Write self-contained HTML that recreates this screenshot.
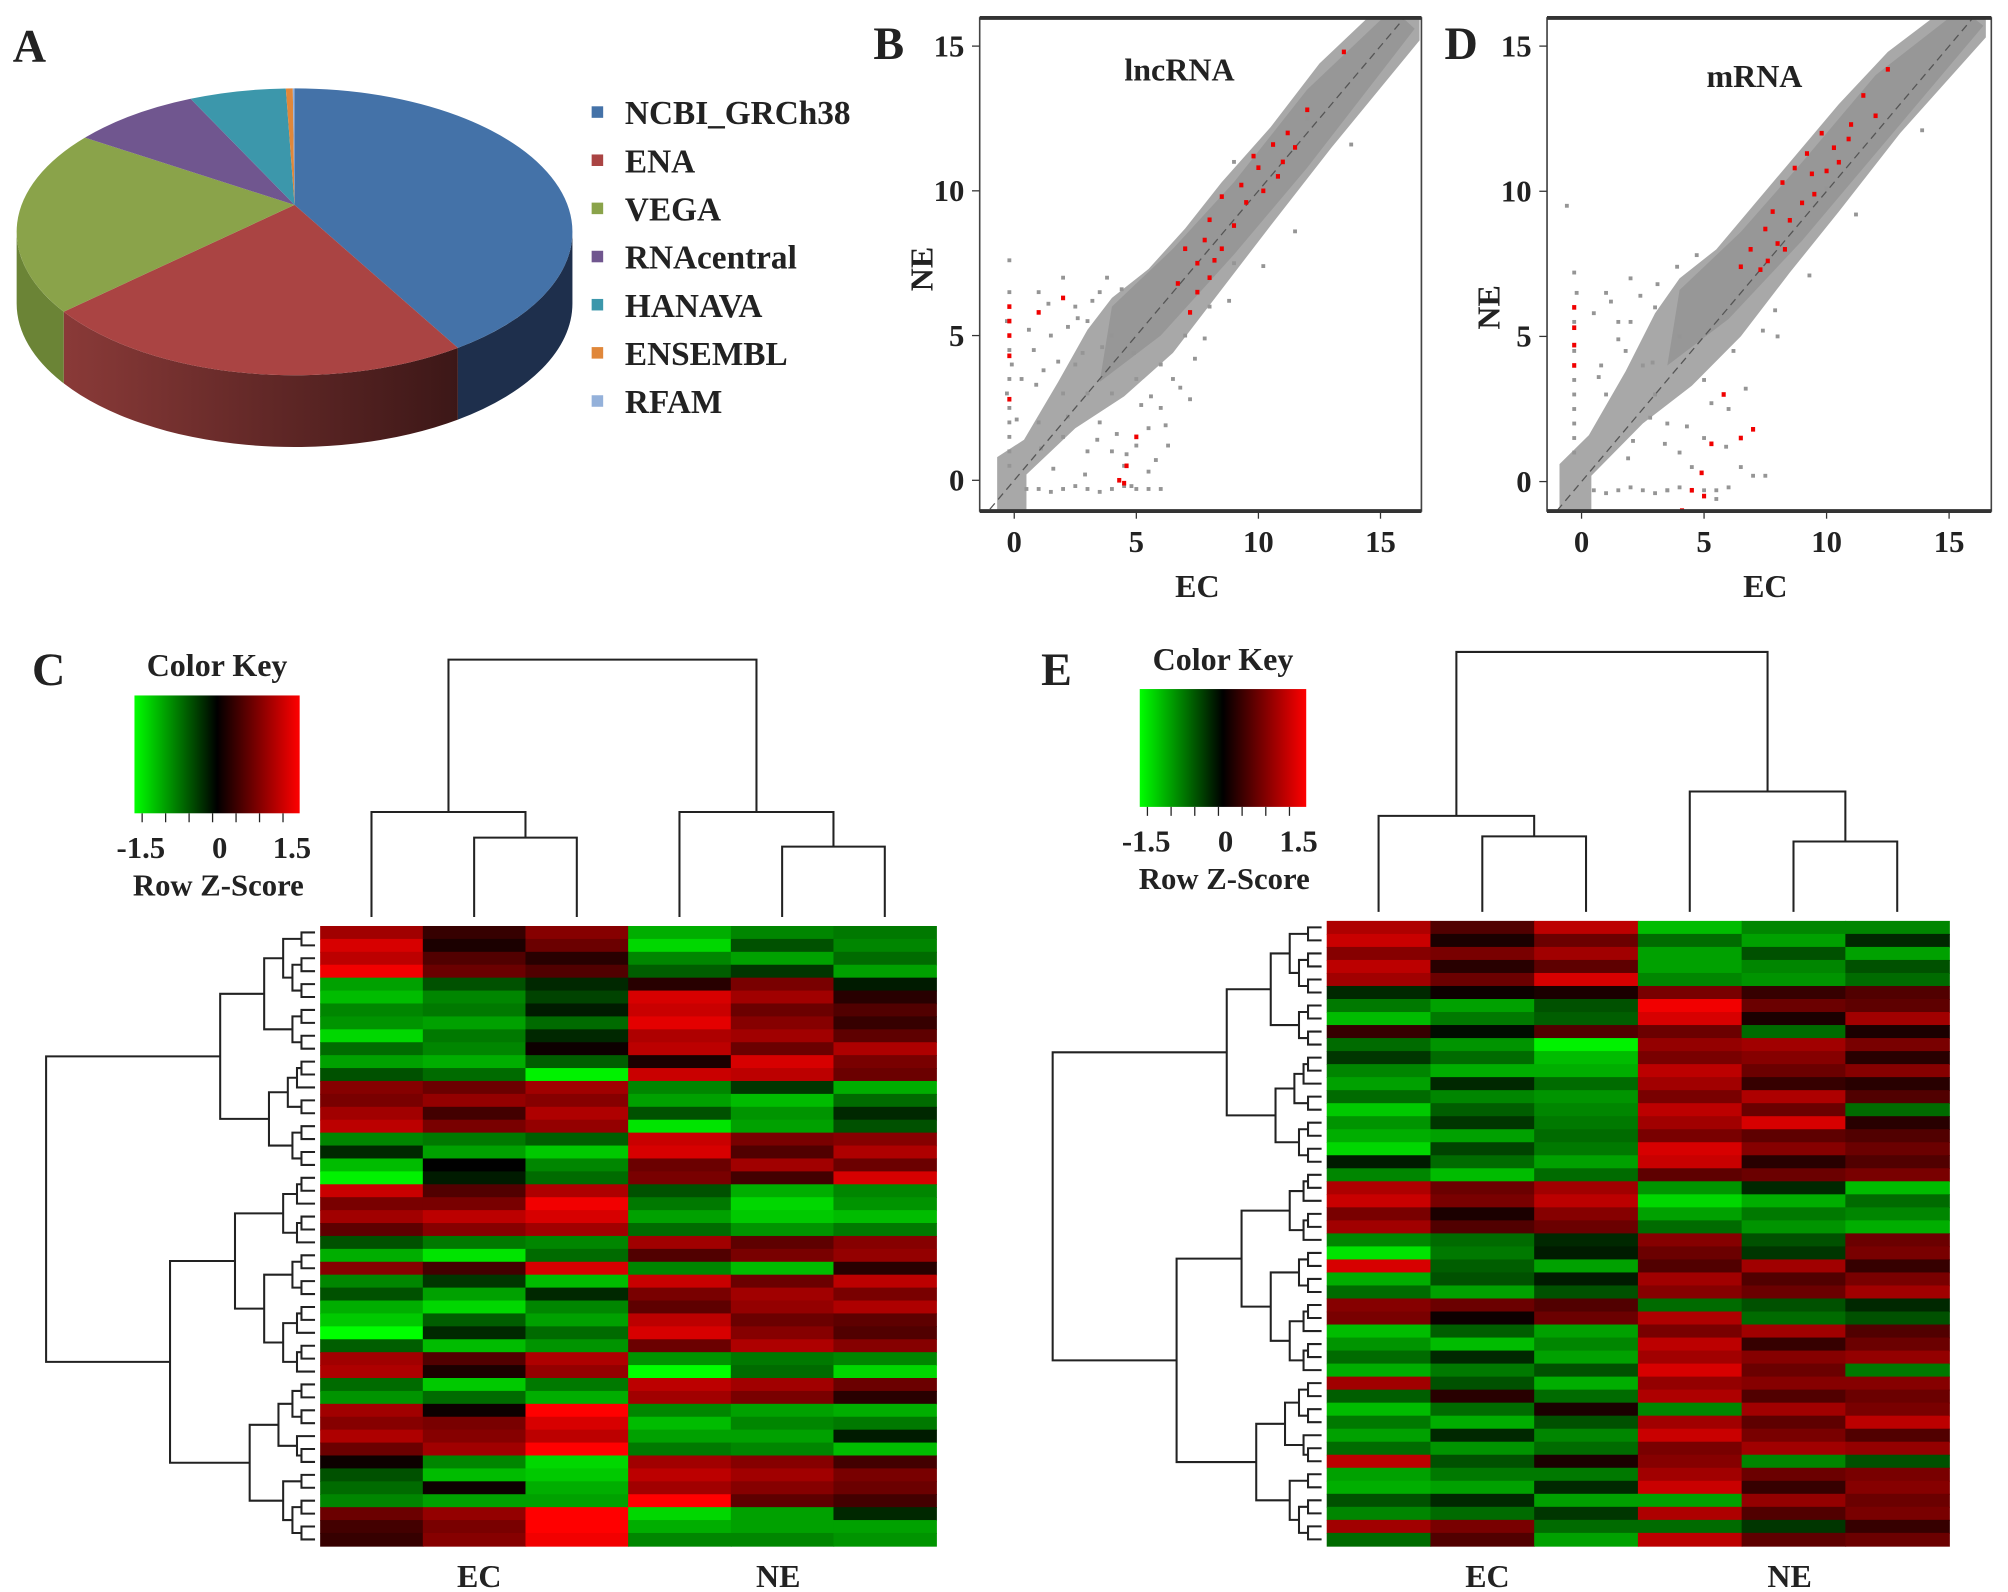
<!DOCTYPE html>
<html><head><meta charset="utf-8"><style>
html,body{margin:0;padding:0;background:#fff}
svg{display:block}
text{font-family:"Liberation Serif",serif;font-weight:bold;fill:#222}
</style></head><body>
<svg id="fig" width="2008" height="1592" viewBox="0 0 1568 1243" preserveAspectRatio="none" xmlns="http://www.w3.org/2000/svg">
<defs>
<linearGradient id="enaSide" x1="0" x2="1" y1="0" y2="0"><stop offset="0" stop-color="#8a3a38"/><stop offset="1" stop-color="#3c1717"/></linearGradient>
<linearGradient id="keyGrad" x1="0" x2="1"><stop offset="0" stop-color="#00ff00"/><stop offset="0.5" stop-color="#000"/><stop offset="1" stop-color="#ff0000"/></linearGradient>
</defs>
<g id="pie"></g>
<g id="legend"></g>
<g id="scB"></g>
<g id="scD"></g>
<g id="hmC"></g>
<g id="hmE"></g>
<text x="10" y="48" font-size="36">A</text>
<text x="682" y="46" font-size="36">B</text>
<text x="1128" y="46" font-size="36">D</text>
<text x="25" y="535" font-size="36">C</text>
<text x="813" y="535" font-size="36">E</text>
</svg>
<script>
const NS="http://www.w3.org/2000/svg";
function mk(p,tag,attrs){const e=document.createElementNS(NS,tag);for(const k in attrs)e.setAttribute(k,attrs[k]);p.appendChild(e);return e;}

// ---------- Pie data ----------
const pieLabels=["NCBI_GRCh38","ENA","VEGA","RNAcentral","HANAVA","ENSEMBL","RFAM"];
const pieValues=[40,25.6,20.8,7.5,5.6,0.4,0.1];
const pieColors=["#4472a8","#aa4443","#8aa34a","#70568f","#3c97ab","#e0873a","#94b1da"];
const pieSide=["#1e2f4c","url(#enaSide)","#6b8436","#4a3a60","#2a6a78","#a05a20","#6f86a8"];

(function(){
  const g=document.getElementById('pie');
  const cx=230,cy=181,rx=217,ry=112,depth=56,ax=230,ay=160;
  const total=pieValues.reduce((a,b)=>a+b,0);
  const pt=(a,dy)=>[cx+rx*Math.cos(a),cy+ry*Math.sin(a)+(dy||0)];
  let a0=-Math.PI/2;const segs=[];
  pieValues.forEach((v,i)=>{const a1=a0+v/total*2*Math.PI;segs.push([a0,a1]);a0=a1;});
  segs.forEach(([s,e],i)=>{
    [[s,e],[s-2*Math.PI,e-2*Math.PI],[s+2*Math.PI,e+2*Math.PI]].forEach(([a,b])=>{
      const lo=Math.max(a,0),hi=Math.min(b,Math.PI);
      if(hi<=lo)return;
      const p1=pt(lo),p2=pt(hi),p3=pt(hi,depth),p4=pt(lo,depth);
      const el=mk(g,'path',{d:`M${p1} A${rx},${ry} 0 0 1 ${p2} L${p3} A${rx},${ry} 0 0 0 ${p4} Z`,fill:pieSide[i]});
      
      
    });
  });
  segs.forEach(([s,e],i)=>{
    const p1=pt(s),p2=pt(e);const large=(e-s)>Math.PI?1:0;
    const el=mk(g,'path',{d:`M${ax},${ay} L${p1} A${rx},${ry} 0 ${large} 1 ${p2} Z`,fill:pieColors[i]});
    
    
  });
  const lg=document.getElementById('legend');
  pieLabels.forEach((l,i)=>{
    const y=88+i*37.6;
    const r=mk(lg,'rect',{x:462,y:y-5,width:9,height:9,fill:pieColors[i]});
    
    
    const t=mk(lg,'text',{x:488,y:y+9,'font-size':26});t.textContent=l;
    
    
  });
})();

// ---------- Scatter data ----------
const ticksXY=[0,5,10,15];
const cloudB=[[-0.7,-1.3],[0.5,-1.3],[0.5,0.2],[2.5,1.8],[4.5,2.9],[6.5,4.4],[8.5,6.6],[10.5,8.8],[13,11.5],[16.6,15.2],[16.6,16.4],[15,16.4],[12.5,14.4],[10.5,12.2],[8.5,10.3],[7,8.7],[5.5,7.3],[4,6.3],[3,5.2],[1.8,3.4],[0.4,1.4],[-0.7,0.8]];
const coreB=[[3.5,3.4],[6,5],[9,7.8],[12,10.8],[16.4,15.6],[15.5,16.3],[12,13.5],[9,10.3],[6.5,8],[4,6]];
const grayB_ec=[-0.2,-0.2,-0.2,-0.2,-0.2,-0.3,-0.2,-0.1,-0.2,-0.3,-0.2,-0.2,0.5,1,1.5,2,2.5,3,3.5,4,4.5,5,5.5,6,1,2,1.5,2.5,3,3.5,4,4.5,5,5.5,4,3,2,1,3.5,2.5,6,6.5,5,4,3,2,7,6,5.5,4.8,8,9,12,9,0.8,1.2,2.2,4.2,5.2,6.2,0.6,1.4,2.6,3.2,3.8,4.4,5.6,6.8,7.4,2.8,1.8,0.9,3.4,4.6,5.8,7.8,8.8,10.2,11.5,13.8,2.2,3.6,1.1,4.9,6.3,7.2,0.3,0.1,1.6,2.9];
const grayB_ne=[0.5,1,1.5,2,2.5,3,3.5,4,4.5,5.5,6.5,7.6,-0.3,-0.3,-0.4,-0.3,-0.2,-0.3,-0.4,-0.3,-0.2,-0.3,-0.3,-0.3,6.5,7,5,4,3,2,1,0.5,1.2,1.8,5,5.5,3,2,6.5,6,2.5,3.5,3.5,3,1,1.5,5,4,0.3,-0.2,6,7.5,12.5,11,4.5,3.8,2.2,1.6,2.6,1.9,5.2,6.1,5.6,6.2,7,6.6,2.9,3.2,4.2,4.4,4.1,3.3,1.4,0.9,0.7,4.9,6.2,7.4,8.6,11.6,5.3,4.6,1.1,4.4,1.2,2.8,3.5,2.1,0.4,0.2];
const redB_ec=[-0.2,-0.2,-0.2,-0.2,-0.2,1,2,4.5,4.3,3.5,5,4.6,7.5,7.2,7,7.5,8,8,8.5,8.5,9,9.3,9.5,10,10.2,10.6,11,11.2,11.5,12,13.5,7.8,9.8,10.8,8.2,6.7];
const redB_ne=[5,5.5,4.3,6,2.8,5.8,6.3,-0.1,0,-1.2,1.5,0.5,6.5,5.8,8,7.5,7,9,8,9.8,8.8,10.2,9.6,10.8,10,11.6,11,12,11.5,12.8,14.8,8.3,11.2,10.5,7.6,6.8];
const cloudD=[[-0.9,-1.3],[0.4,-1.3],[0.4,0.2],[2.5,2],[4.5,3.3],[6.5,5],[8.5,7.2],[10.5,9.3],[13,12],[16.5,15.3],[16.5,16.4],[15,16.4],[12.5,14.8],[10.5,13],[8.5,11],[7,9.5],[5.5,8],[4,7],[3,5.8],[1.8,3.8],[0.3,1.6],[-0.9,0.6]];
const coreD=[[3.5,4],[6,5.6],[9,8.3],[12,11.3],[16.4,15.7],[15.5,16.3],[12,14],[9,11],[6.5,8.6],[4,6.6]];
const grayD_ec=[-0.3,-0.3,-0.3,-0.3,-0.3,-0.3,-0.3,-0.3,-0.2,-0.3,0.5,1,1.5,2,2.5,3,3.5,4,4.5,5,5.5,6,1,2,1.5,2.5,3,3.5,4,4.5,5,6.5,7,7.5,6,5,4,3,2,1,8,6.2,7.4,10,-0.6,3.5,5.5,0.8,1.8,2.8,0.5,1.2,2.4,3.1,3.9,4.7,5.3,6.7,1.5,0.7,2.9,4.3,5.9,7.9,9.3,11.2,13.9,2.1,3.4,1.9];
const grayD_ne=[1,1.5,2,2.5,3,3.5,4.5,5.5,6.5,7.2,-0.3,-0.4,-0.3,-0.2,-0.3,-0.4,-0.3,-0.2,-0.3,-0.3,-0.3,-0.2,6.5,7,5.5,4,3,2,1,0.5,1.5,0.5,0.2,0.2,2.5,3.5,5,6,5.5,3,5,4.5,5.2,10.1,9.5,-0.3,-0.6,4,4.5,2.2,5.8,6.2,6.4,6.8,7.4,7.8,2.7,3.2,4.9,3.6,4.1,1.9,1.2,5.9,7.1,9.2,12.1,1.4,1.3,0.8];
const redD_ec=[-0.3,-0.3,-0.3,-0.3,4.5,5,6.5,7,5.3,4.1,4.9,5.8,6.5,6.9,7.3,7.5,7.8,8,8.2,8.5,8.7,9,9.2,9.5,9.8,10,10.3,10.5,11,11.5,12,12.5,8.3,9.4,7.6,10.9];
const redD_ne=[5.3,4.7,6,4,-0.3,-0.5,1.5,1.8,1.3,-1,0.3,3,7.4,8,7.3,8.7,9.3,8.2,10.3,9,10.8,9.6,11.3,9.9,12,10.7,11.5,11,12.3,13.3,12.6,14.2,8,10.6,7.6,11.8];

function scatter(gid,f,cloud,core,gx,gy,rxs,rys,title,titleX,titleY,ylabX,ylabY){
  const g=document.getElementById(gid);
  const X=v=>f.x0+v*(f.x15-f.x0)/15, Y=v=>f.y0+v*(f.y15-f.y0)/15;
  const fr=mk(g,'rect',{x:f.L,y:f.T,width:f.R-f.L,height:f.B-f.T,fill:'#fff',stroke:'#444','stroke-width':1.2});
  
  
  const cl=mk(g,'polygon',{points:cloud.map(p=>X(p[0])+','+Y(p[1])).join(' '),fill:'#a8a8a8'});
  
  
  const co=mk(g,'polygon',{points:core.map(p=>X(p[0])+','+Y(p[1])).join(' '),fill:'#979797'});
  
  
  gx.forEach((v,i)=>{const c=mk(g,'rect',{x:X(v)-1.5,y:Y(gy[i])-1.5,width:3,height:3,fill:'#959595'});
    
    });
  const dl=mk(g,'line',{x1:X(-1),y1:Y(-1),x2:X(16.5),y2:Y(16.5),stroke:'#555','stroke-width':1,'stroke-dasharray':'6,4'});
  
  
  rxs.forEach((v,i)=>{const c=mk(g,'rect',{x:X(v)-1.6,y:Y(rys[i])-1.8,width:3.2,height:3.6,fill:'#f00000'});
    
    });
  mk(g,'rect',{x:f.L-30,y:f.T-40,width:f.R-f.L+60,height:40,fill:'#fff'});
  mk(g,'rect',{x:f.L-30,y:f.B,width:f.R-f.L+60,height:30,fill:'#fff'});
  mk(g,'rect',{x:f.R,y:f.T-40,width:30,height:f.B-f.T+70,fill:'#fff'});
  mk(g,'rect',{x:f.L-12,y:f.T,width:12,height:f.B-f.T,fill:'#fff'});
  mk(g,'rect',{x:f.L,y:f.T,width:f.R-f.L,height:f.B-f.T,fill:'none',stroke:'#444','stroke-width':1.2});
  mk(g,'line',{x1:f.L,x2:f.R,y1:f.T,y2:f.T,stroke:'#333','stroke-width':3});
  mk(g,'line',{x1:f.L,x2:f.R,y1:f.B,y2:f.B,stroke:'#333','stroke-width':3});
  ticksXY.forEach(v=>{
    mk(g,'line',{x1:X(v),x2:X(v),y1:f.B,y2:f.B+6,stroke:'#333'});
    const t=mk(g,'text',{x:X(v),y:f.B+32,'font-size':24,'text-anchor':'middle','font-weight':'normal'});t.textContent=v;
    
    
    mk(g,'line',{x1:f.L-6,x2:f.L,y1:Y(v),y2:Y(v),stroke:'#333'});
    const u=mk(g,'text',{x:f.L-12,y:Y(v)+8,'font-size':24,'text-anchor':'end','font-weight':'normal'});u.textContent=v;
    
    
  });
  const tt=mk(g,'text',{x:titleX,y:titleY,'font-size':25,'text-anchor':'middle'});tt.textContent=title;
  
  
  const xl=mk(g,'text',{x:(X(0)+X(15))/2,y:f.B+67,'font-size':25,'text-anchor':'middle'});xl.textContent='EC';
  
  
  const yl=mk(g,'text',{x:ylabX,y:ylabY,'font-size':25,'text-anchor':'middle',transform:`rotate(-90 ${ylabX} ${ylabY})`});yl.textContent='NE';
  
  
}
scatter('scB',{L:765,R:1110,T:14,B:399,x0:792,x15:1078,y0:375,y15:36},cloudB,coreB,grayB_ec,grayB_ne,redB_ec,redB_ne,'lncRNA',921,63,728,210);
scatter('scD',{L:1208,R:1555,T:14,B:399,x0:1235,x15:1522,y0:376,y15:36},cloudD,coreD,grayD_ec,grayD_ne,redD_ec,redD_ne,'mRNA',1370,68,1171,240);

// ---------- Heatmap data (row z-scores; columns EC1 EC2 EC3 NE1 NE2 NE3) ----------
const heatCols=["EC","EC","EC","NE","NE","NE"];
const heatC=[
[1.2,0.4,1,-1.3,-1,-0.9],[1.6,0.2,0.8,-1.6,-0.6,-1],[1.4,0.6,0.3,-1,-1.2,-0.8],[1.8,0.8,0.6,-0.7,-0.4,-1.2],
[-1.2,-0.6,-0.3,0.3,0.9,-0.2],[-1.4,-1,-0.5,1.6,1.2,0.3],[-1,-0.9,-0.2,1.5,0.8,0.6],[-1.1,-1.2,-0.8,1.7,1,0.4],
[-1.6,-0.9,-0.3,1.3,1.2,0.7],[-0.8,-1,0.1,1.4,0.8,1.3],[-1.2,-1.3,-0.7,0.2,1.6,0.9],[-0.6,-0.8,-1.8,1.5,1.4,0.8],
[1,0.8,1.2,-1,-0.4,-1.3],[0.9,1.1,1,-1.2,-1.4,-0.8],[1.2,0.5,1.3,-0.6,-1.1,-0.3],[1.4,0.9,1.1,-1.7,-1.2,-0.6],
[-1,-0.9,-0.7,1.5,0.9,1],[-0.3,-1.2,-1.5,1.6,0.6,1.3],[-1.4,0,-1,0.8,1.2,0.8],[-1.8,-0.2,-0.8,0.9,0.5,1.6],
[1.5,0.6,1.3,-0.6,-1.3,-1],[0.9,0.9,1.8,-0.9,-1.6,-1.1],[1.2,1.4,1.6,-1.2,-1.5,-1.4],[0.7,1,1.2,-0.8,-1.1,-0.9],
[-0.6,-0.9,-1,1.2,0.7,1],[-1.3,-1.7,-0.8,0.6,0.9,1.1],[1,0.5,1.6,-1,-1.4,0.3],[-1,-0.4,-1.4,1.5,0.8,1.4],
[-0.6,-1.2,-0.3,0.9,1.2,0.9],[-1.3,-1.6,-1,0.7,1.1,1.3],[-1.5,-0.7,-1.2,1.4,0.8,0.7],[-1.9,-0.3,-0.8,1.6,1,0.6],
[-0.7,-1.4,-1.1,0.8,1.3,1],[1.2,0.6,1.3,-1.1,-0.9,-1],[1.3,0.2,1.1,-2,-0.8,-1.6],[-0.8,-1.5,-0.9,1.4,1.2,0.8],
[-1.1,-0.8,-1.3,1.2,0.9,0.3],[1.2,0.1,1.9,-1,-1.2,-1.3],[1,0.9,1.6,-1.4,-1,-0.9],[1.3,1,1.4,-1.2,-1.2,-0.2],
[0.8,1.2,1.9,-0.9,-1,-1.4],[0.1,-1,-1.6,1.2,1,0.5],[-0.6,-1.4,-1.5,1.4,1.2,0.9],[-0.8,0.1,-1.3,1.2,1,0.8],
[-1,-1.2,-1.2,1.9,0.7,0.5],[0.8,1.1,1.9,-1.6,-1.2,-0.3],[0.5,0.9,2,-1.3,-1.2,-1.2],[0.4,1,1.8,-1,-1,-1.1]];
const heatE=[
[1.3,0.6,1.4,-1.4,-1,-1],[1.5,0.2,0.8,-0.8,-1.2,-0.3],[1,0.9,1.2,-1.2,-0.6,-1.2],[1.4,0.3,0.7,-1.2,-1,-0.6],
[1.2,0.8,1.6,-1,-1.1,-0.8],[-0.3,0.1,0.2,0.9,0.4,0.6],[-0.9,-1.2,-0.6,1.8,0.8,0.7],[-1.4,-0.9,-0.7,1.6,0.2,1.2],
[0.4,-0.1,0.6,0.8,-0.8,0.2],[-0.8,-1.1,-1.8,1.1,1.2,0.9],[-0.4,-0.8,-1.4,0.9,1,0.3],[-1,-1.3,-1.3,1.4,0.8,1],
[-1.2,-0.3,-0.8,1.2,0.4,0.3],[-0.8,-1,-1.1,0.9,1.3,0.6],[-1.5,-0.7,-1,1.4,0.8,-0.8],[-1.1,-0.4,-0.9,1.2,1.6,0.3],
[-1.3,-1.2,-0.8,0.9,0.7,0.6],[-1.6,-0.5,-0.9,1.6,1,0.8],[-0.2,-0.8,-1.2,1.5,0.3,0.6],[-1,-1.4,-0.8,0.7,0.8,0.9],
[1.3,0.8,1.2,-1.1,-0.3,-1.4],[1.5,0.9,1.4,-1.6,-1.3,-0.8],[0.9,0.2,1,-1.2,-0.9,-1],[1.2,0.6,0.8,-0.8,-1.1,-1.3],
[-1,-0.8,-0.3,1,-0.6,0.8],[-1.7,-0.9,-0.2,0.8,-0.4,0.9],[1.6,-0.7,-1.2,0.6,1.2,0.4],[-1.3,-0.6,-0.2,1.2,0.6,0.9],
[-0.8,-1.2,-0.6,1,0.8,1.2],[1,0.8,0.6,-0.8,-0.6,-0.3],[0.9,0.1,0.8,1.3,-0.8,-0.6],[-1.4,-0.7,-1.2,0.9,1.2,0.6],
[-1.1,-1.4,-1,1.4,0.4,0.8],[-0.8,-0.3,-1.2,1.2,1,1.1],[-1.3,-0.9,-0.6,1.6,0.8,-0.9],[1.2,-0.6,-1.3,1.1,1,1],
[-0.7,0.3,-0.8,1.3,0.6,0.8],[-1.4,-0.8,0.2,-1,1.2,0.9],[-0.9,-1.3,-0.6,1.2,0.7,1.4],[-1.2,-0.3,-1,1.5,0.9,0.6],
[-0.8,-1.1,-0.8,0.9,1.2,1.1],[1.4,-0.6,0.2,1,-1,-0.6],[-1.2,-0.9,-0.9,1.2,0.8,0.9],[-1.3,-1.2,-0.3,1.5,0.4,1],
[-0.6,-0.3,-1.2,-1.2,1.1,0.8],[-1,-0.8,-0.4,1.3,0.6,0.9],[1.2,0.9,-0.8,-0.8,-0.4,0.4],[-0.8,0.6,-1.2,1.4,0.7,0.8]];

function zcol(z){const t=Math.max(-1,Math.min(1,z/1.9));
  if(t>=0)return `rgb(${Math.round(255*t)},0,0)`;return `rgb(0,${Math.round(-255*t)},0)`;}

function heatmap(gid,data,H,keyBox,top){
  const g=document.getElementById(gid);
  const n=data.length,cw=(H.R-H.L)/6,rh=(H.B-H.T)/n;
  data.forEach((row,r)=>row.forEach((z,c)=>{
    const e=mk(g,'rect',{x:H.L+c*cw,y:H.T+r*rh,width:cw+0.6,height:rh+0.6,fill:zcol(z)});
    
    
  }));
  const cx=i=>H.L+cw*(i+0.5);
  const st={stroke:'#222','stroke-width':1.6,fill:'none'};
  const p=(d,name)=>{const e=mk(g,'path',Object.assign({d:d},st));};
  const leafY=H.T-7;
  const lm=(cx(1)+cx(2))/2, lmn=(cx(0)+lm)/2, rm=(cx(4)+cx(5))/2, rmn=(cx(3)+rm)/2;
  p(`M${cx(1)},${leafY}V${top.li}H${cx(2)}V${leafY}`,'column-dendrogram');
  p(`M${cx(0)},${leafY}V${top.l}H${lm}V${top.li}`,'column-dendrogram');
  p(`M${cx(4)},${leafY}V${top.ri}H${cx(5)}V${leafY}`,'column-dendrogram');
  p(`M${cx(3)},${leafY}V${top.r}H${rm}V${top.ri}`,'column-dendrogram');
  p(`M${lmn},${top.l}V${top.root}H${rmn}V${top.r}`,'column-dendrogram');
  const leafX=H.L-4;
  function node(lo,hi,depth){
    if(hi-lo===1)return {y:H.T+rh*(lo+0.5),x:leafX};
    const k=hi-lo;const m=lo+Math.max(1,Math.round(k*((lo+hi)%3===0?0.4:0.55)));
    const a=node(lo,m,depth+1),b=node(m,hi,depth+1);
    const frac=depth===0?1:Math.pow(k/n,1.05)*0.9;
    const x=leafX-(leafX-top.rootX)*frac-4;
    p(`M${a.x},${a.y}H${x}V${b.y}H${b.x}`,'row-dendrogram');
    return {x:x,y:(a.y+b.y)/2};
  }
  node(0,n,0);
  const l1=mk(g,'text',{x:cx(1)+4,y:H.B+32,'font-size':25,'text-anchor':'middle'});l1.textContent=heatCols[0];
  
  
  const l2=mk(g,'text',{x:cx(4)-3,y:H.B+32,'font-size':25,'text-anchor':'middle'});l2.textContent=heatCols[3];
  
  
  const k=keyBox;
  const kt=mk(g,'text',{x:k.x+k.w/2,y:k.y-15,'font-size':25,'text-anchor':'middle'});kt.textContent='Color Key';
  
  
  const kr=mk(g,'rect',{x:k.x,y:k.y,width:k.w,height:k.h,fill:'url(#keyGrad)'});
  
  
  for(let i=0;i<7;i++){const xx=k.x+6+i*(k.w-8)/6.6;mk(g,'line',{x1:xx,x2:xx,y1:k.y+k.h,y2:k.y+k.h+7,stroke:'#222'});}
  [['-1.5',k.x+5],['0',k.x+k.w/2+2],['1.5',k.x+k.w-6]].forEach(([s,xx])=>{
    const t=mk(g,'text',{x:xx,y:k.y+k.h+35,'font-size':24,'text-anchor':'middle',fill:'#3a2a2a'});t.textContent=s;
    
    
  });
  const rz=mk(g,'text',{x:k.x+k.w/2+1,y:k.y+k.h+64,'font-size':24,'text-anchor':'middle',fill:'#3a2a2a'});rz.textContent='Row Z-Score';
  
  
}
heatmap('hmC',heatC,{L:250,R:731,T:723,B:1207},{x:105,y:543,w:129,h:92},{root:515,l:634,li:654,r:634,ri:661,rootX:40});
heatmap('hmE',heatE,{L:1036,R:1522,T:719,B:1207},{x:890,y:538,w:130,h:92},{root:509,l:637,li:653,r:618,ri:657,rootX:826});
</script>
</body></html>
